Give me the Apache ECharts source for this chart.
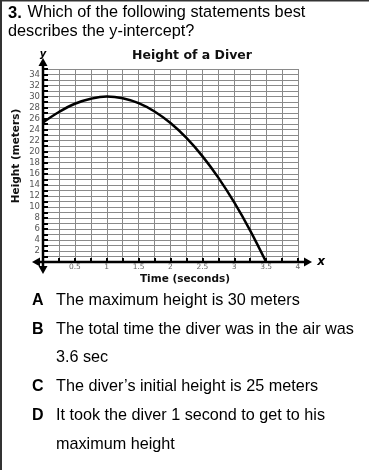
<!DOCTYPE html>
<html><head><meta charset="utf-8">
<script src="https://cdn.jsdelivr.net/npm/echarts@6/dist/echarts.min.js"></script>
<style>html,body{margin:0;padding:0;background:#fff}#c{width:369px;height:470px}</style>
</head><body><div id="c"></div>
<script>
// ---- data ----
const timeValues = [0, 0.25, 0.5, 0.75, 1, 1.25, 1.5, 1.75, 2, 2.25, 2.5, 2.75, 3, 3.25, 3.5];
const heightValues = [25.3, 27.2, 28.7, 29.6, 30.0, 29.7, 28.8, 27.3, 25.2, 22.5, 19.2, 15.3, 10.8, 5.7, 0];
const xTickLabels = ['0.5', '1', '1.5', '2', '2.5', '3', '3.5', '4'];
const yTickLabels = ['2','4','6','8','10','12','14','16','18','20','22','24','26','28','30','32','34'];
const chartTitle = 'Height of a Diver';
const xAxisName = 'Time (seconds)';
const yAxisName = 'Height (meters)';
const questionNumber = '3.';
const questionLines = [' Which of the following statements best', 'describes the y-intercept?'];
const answerLetters = ['A', 'B', '', 'C', 'D', ''];
const answerLines = [
  'The maximum height is 30 meters',
  'The total time the diver was in the air was',
  '3.6 sec',
  'The diver\u2019s initial height is 25 meters',
  'It took the diver 1 second to get to his',
  'maximum height'
];

const chart = echarts.init(document.getElementById('c'), null, {renderer: 'canvas'});
const fontQ = 'Liberation Sans';
const fontC = 'DejaVu Sans';

chart.setOption({
  animation: false,
  backgroundColor: '#fff',
  title: {
    text: chartTitle, left: 187, top: 44, textAlign: 'center',
    textStyle: {fontFamily: fontC, fontSize: 12.5, fontWeight: 'bold', color: '#111'}
  },
  grid: {left: 43, right: 71, top: 69, bottom: 208, containLabel: false},
  xAxis: {
    type: 'value', min: 0, max: 4, interval: 0.25,
    axisLine: {show: false},
    axisTick: {show: true, inside: true, length: 4, lineStyle: {color: '#000', width: 2}},
    axisLabel: {
      show: true, margin: 1, color: '#666', fontFamily: fontC, fontSize: 7.5,
      formatter: v => xTickLabels.includes(String(v)) ? String(v) : ''
    },
    splitLine: {show: true, lineStyle: {color: '#8a8a8a', width: 1}}
  },
  yAxis: {
    type: 'value', min: 0, max: 35, interval: 1,
    axisLine: {show: false},
    axisTick: {show: true, inside: true, length: 5, lineStyle: {color: '#000', width: 2}},
    axisLabel: {
      show: true, margin: 3, color: '#555', fontFamily: fontC, fontSize: 8.5,
      formatter: v => yTickLabels.includes(String(v)) ? String(v) : ''
    },
    splitLine: {show: true, lineStyle: {color: '#8a8a8a', width: 1}}
  },
  series: [{
    type: 'line', smooth: 0.4, showSymbol: false,
    data: timeValues.map((t, i) => [t, heightValues[i]]),
    lineStyle: {color: '#000', width: 2.5}
  }]
});

const o = chart.convertToPixel({gridIndex: 0}, [0, 0]);
const tr = chart.convertToPixel({gridIndex: 0}, [4, 35]);
const g = [];
// frame
g.push({type: 'line', shape: {x1: 0, y1: 0.5, x2: 369, y2: 0.5}, style: {stroke: '#333', lineWidth: 2}});
g.push({type: 'line', shape: {x1: 1, y1: 0, x2: 1, y2: 470}, style: {stroke: '#333', lineWidth: 2}});
// axes with arrows
g.push({type: 'line', shape: {x1: o[0] - 6, y1: o[1], x2: tr[0] + 8, y2: o[1]}, style: {stroke: '#000', lineWidth: 2.5}, z: 10});
g.push({type: 'line', shape: {x1: o[0], y1: o[1] + 6, x2: o[0], y2: tr[1] - 5}, style: {stroke: '#000', lineWidth: 2.5}, z: 10});
const ah = 8, aw = 4.5;
g.push({type: 'polygon', shape: {points: [[tr[0] + 14, o[1]], [tr[0] + 14 - ah, o[1] - aw], [tr[0] + 14 - ah, o[1] + aw]]}, style: {fill: '#000'}, z: 10});
g.push({type: 'polygon', shape: {points: [[o[0] - 11, o[1]], [o[0] - 11 + ah, o[1] - aw], [o[0] - 11 + ah, o[1] + aw]]}, style: {fill: '#000'}, z: 10});
g.push({type: 'polygon', shape: {points: [[o[0], o[1] + 12], [o[0] - aw, o[1] + 12 - ah], [o[0] + aw, o[1] + 12 - ah]]}, style: {fill: '#000'}, z: 10});
g.push({type: 'polygon', shape: {points: [[o[0], tr[1] - 11], [o[0] - aw, tr[1] - 11 + ah], [o[0] + aw, tr[1] - 11 + ah]]}, style: {fill: '#000'}, z: 10});
g.push({type: 'text', x: tr[0] + 23, y: o[1], style: {text: 'x', fontFamily: fontC, fontStyle: 'italic', fontWeight: 'bold', fontSize: 12, fill: '#000', textAlign: 'center', textVerticalAlign: 'middle'}, z: 10});
g.push({type: 'text', x: o[0], y: tr[1] - 15, style: {text: 'y', fontFamily: fontC, fontStyle: 'italic', fontWeight: 'bold', fontSize: 10, fill: '#000', textAlign: 'center', textVerticalAlign: 'middle'}, z: 10});
// axis names
g.push({type: 'text', x: 185, y: 279, style: {text: xAxisName, fontFamily: fontC, fontWeight: 'bold', fontSize: 10.5, fill: '#111', textAlign: 'center', textVerticalAlign: 'middle'}});
g.push({type: 'text', x: 16, y: 156, rotation: Math.PI / 2, style: {text: yAxisName, fontFamily: fontC, fontWeight: 'bold', fontSize: 10.5, fill: '#111', textAlign: 'center', textVerticalAlign: 'middle'}});
// question
g.push({type: 'text', x: 8, y: 13, style: {text: questionNumber, fontFamily: fontQ, fontWeight: 'bold', fontSize: 16.5, fill: '#000', textVerticalAlign: 'middle'}});
g.push({type: 'text', x: 23, y: 13, style: {text: questionLines[0], fontFamily: fontQ, fontSize: 16.3, fill: '#000', textVerticalAlign: 'middle'}});
g.push({type: 'text', x: 8, y: 32, style: {text: questionLines[1], fontFamily: fontQ, fontSize: 16.3, fill: '#000', textVerticalAlign: 'middle'}});
// answers
const rowY = [301, 330, 358, 387, 416, 445];
answerLines.forEach((t, i) => {
  if (answerLetters[i]) g.push({type: 'text', x: 32, y: rowY[i], style: {text: answerLetters[i], fontFamily: fontQ, fontWeight: 'bold', fontSize: 16, fill: '#000', textVerticalAlign: 'middle'}});
  g.push({type: 'text', x: 56, y: rowY[i], style: {text: t, fontFamily: fontQ, fontSize: 16.2, fill: '#000', textVerticalAlign: 'middle'}});
});
chart.setOption({graphic: {elements: g}});
</script>
</body></html>
